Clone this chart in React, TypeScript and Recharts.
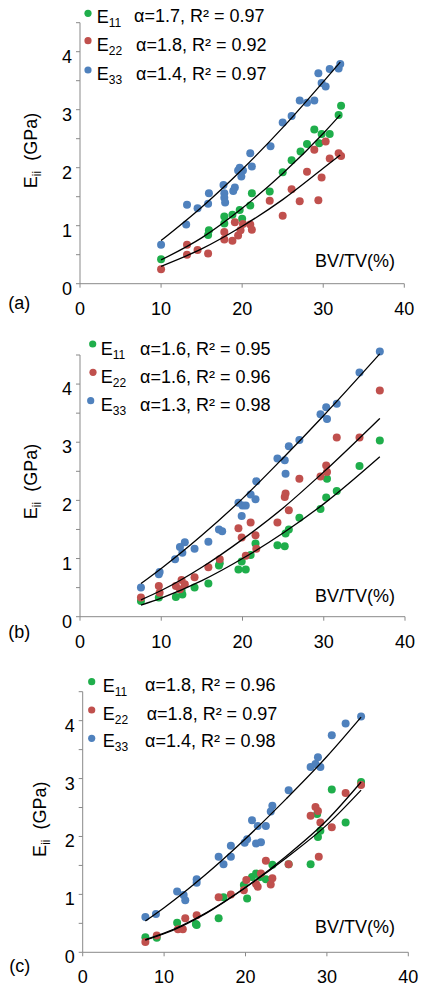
import React from 'react'
import { ComposedChart, Scatter, XAxis, YAxis, ReferenceLine } from 'recharts'

type Pt = [number, number]

const GREEN = '#1fae4b'
const RED = '#c0504d'
const BLUE = '#4f81bd'
const AXIS = '#898989'
const FONT = '"Liberation Sans", Arial, sans-serif'

const xTicks = [0, 10, 20, 30, 40]
const yTicks = [0, 0.5, 1, 1.5, 2, 2.5, 3, 3.5, 4, 4.5]
const subs = ['11', '22', '33']

// panel (a)
const aE11: Pt[] = [[10, 0.42], [15.8, 0.84], [15.9, 0.92], [17.8, 1.16], [17.8, 1.04], [18.8, 1.19], [19.7, 1.27], [20.0, 1.12], [21.0, 1.35], [21.2, 1.56], [23.4, 1.59], [25.0, 1.92], [26.1, 2.13], [27.2, 2.28], [28.0, 2.41], [28.9, 2.66], [29.5, 2.42], [29.8, 2.58], [30.8, 2.58], [31.9, 2.91], [32.2, 3.07]]
const aE22: Pt[] = [[10, 0.25], [13.2, 0.67], [13.2, 0.5], [14.5, 0.58], [15.8, 0.52], [17.8, 0.89], [17.8, 0.76], [18.8, 0.74], [19.1, 1.06], [19.5, 0.83], [19.8, 0.92], [20.1, 1.03], [21.0, 1.02], [21.2, 0.93], [23.4, 1.43], [25.0, 1.17], [26.1, 1.63], [27.1, 1.42], [28.0, 1.93], [28.9, 2.31], [29.4, 1.44], [29.8, 1.83], [30.3, 2.45], [30.8, 2.16], [31.9, 2.25], [32.2, 2.2]]
const aE33: Pt[] = [[10, 0.67], [13.1, 1.02], [13.2, 1.36], [14.5, 1.3], [15.8, 1.38], [15.9, 1.56], [17.7, 1.7], [17.8, 1.56], [17.8, 1.48], [17.9, 1.4], [18.9, 1.6], [19.1, 1.66], [19.5, 1.95], [19.7, 2.0], [19.9, 1.85], [20.1, 1.95], [21.0, 2.25], [21.2, 2.02], [23.5, 2.37], [25.0, 2.78], [26.1, 2.89], [27.1, 3.16], [28.0, 3.12], [28.9, 3.16], [29.4, 3.63], [29.8, 3.46], [30.3, 3.4], [30.8, 3.7], [31.9, 3.71], [32.1, 3.79]]
const aFit11: Pt[] = [[10, 0.41], [15, 0.79], [20, 1.3], [25, 1.9], [30, 2.59], [32.1, 2.91]]
const aFit22: Pt[] = [[10, 0.3], [15, 0.6], [20, 0.99], [25, 1.45], [30, 1.99], [32.1, 2.22]]
const aFit33: Pt[] = [[10, 0.745], [15, 1.32], [20, 1.97], [25, 2.69], [30, 3.48], [32.1, 3.82]]
const aText = ['α=1.7, R² = 0.97', 'α=1.8, R² = 0.92', 'α=1.4, R² = 0.97']

// panel (b)
const bE11: Pt[] = [[7.5, 0.27], [9.7, 0.33], [11.8, 0.34], [12.5, 0.45], [12.6, 0.38], [14.1, 0.5], [15.8, 0.57], [17.1, 0.88], [17.2, 0.92], [19.5, 0.81], [19.9, 0.95], [20.4, 0.81], [21.0, 1.06], [21.6, 1.26], [24.3, 1.23], [25.2, 1.21], [25.3, 1.43], [25.7, 1.5], [27.0, 1.7], [29.6, 1.85], [30.3, 2.05], [30.4, 2.37], [31.6, 2.16], [34.4, 2.59], [36.9, 3.03]]
const bE22: Pt[] = [[7.5, 0.33], [9.7, 0.53], [9.8, 0.41], [11.8, 0.53], [12.3, 0.47], [12.5, 0.63], [12.9, 0.56], [14.1, 0.68], [15.8, 0.85], [17.2, 0.99], [19.5, 1.52], [19.9, 1.36], [20.4, 1.05], [21.0, 1.62], [21.6, 1.4], [21.7, 1.17], [24.3, 1.62], [25.2, 2.06], [25.3, 2.12], [25.7, 1.83], [27.0, 2.37], [29.6, 2.41], [30.3, 2.6], [30.4, 2.49], [31.6, 3.08], [34.4, 3.08], [36.9, 3.89]]
const bE33: Pt[] = [[7.5, 0.5], [9.7, 0.73], [9.8, 0.77], [11.7, 0.99], [12.3, 1.2], [12.6, 1.1], [12.9, 1.28], [14.1, 1.17], [15.8, 1.29], [17.1, 1.5], [17.5, 1.47], [19.5, 1.96], [19.9, 1.73], [20.0, 1.91], [20.4, 1.91], [21.0, 2.1], [21.6, 2.02], [21.7, 2.33], [24.3, 2.72], [25.2, 2.69], [25.3, 2.46], [25.7, 2.93], [27.0, 3.04], [29.6, 3.48], [30.3, 3.6], [30.4, 3.4], [31.6, 3.66], [34.4, 4.2], [36.9, 4.56]]
const bFit11: Pt[] = [[7.5, 0.2], [10, 0.32], [15, 0.62], [20, 1.0], [25, 1.44], [30, 1.94], [36.9, 2.75]]
const bFit22: Pt[] = [[7.5, 0.29], [10, 0.45], [15, 0.85], [20, 1.33], [25, 1.87], [30, 2.49], [36.9, 3.41]]
const bFit33: Pt[] = [[7.5, 0.57], [10, 0.83], [15, 1.4], [20, 2.03], [25, 2.73], [30, 3.46], [36.9, 4.52]]
const bText = ['α=1.6, R² = 0.95', 'α=1.6, R² = 0.96', 'α=1.3, R² = 0.98']

// panel (c)
const cE11: Pt[] = [[7.7, 0.26], [9.1, 0.25], [11.6, 0.51], [13.9, 0.49], [14.0, 0.47], [16.7, 0.59], [17.3, 0.95], [19.8, 1.16], [20.2, 0.93], [20.8, 1.3], [21.3, 1.36], [21.8, 1.3], [22.5, 1.26], [23.3, 1.51], [25.3, 1.52], [28.0, 1.52], [28.8, 2.39], [28.9, 1.99], [29.2, 2.1], [30.6, 2.81], [32.3, 2.24], [34.2, 2.94]]
const cE22: Pt[] = [[7.7, 0.18], [9.1, 0.29], [11.7, 0.4], [12.3, 0.4], [12.6, 0.59], [14.0, 0.64], [16.7, 0.95], [18.2, 1.0], [19.8, 1.07], [20.1, 1.25], [21.3, 1.18], [21.5, 1.13], [21.9, 1.36], [22.5, 1.58], [23.1, 1.17], [23.3, 1.28], [25.3, 1.52], [28.0, 2.36], [28.6, 2.51], [28.9, 2.44], [29.2, 2.24], [29.0, 1.65], [30.6, 2.16], [32.3, 2.75], [34.2, 2.89]]
const cE33: Pt[] = [[7.7, 0.61], [9.0, 0.66], [11.6, 1.05], [12.4, 0.99], [12.6, 0.9], [14.0, 1.26], [14.0, 1.2], [16.7, 1.65], [17.3, 1.52], [18.2, 1.65], [18.2, 1.84], [19.9, 1.89], [20.2, 1.95], [20.8, 2.28], [21.3, 1.88], [21.5, 2.18], [21.9, 1.9], [22.5, 2.18], [23.1, 2.43], [23.3, 2.53], [25.3, 2.8], [28.0, 3.2], [28.6, 3.25], [28.9, 3.37], [29.2, 3.2], [30.6, 3.75], [32.3, 3.95], [34.2, 4.07]]
const cFit11: Pt[] = [[7.7, 0.22], [10, 0.33], [15, 0.67], [20, 1.12], [25, 1.63], [30, 2.2], [34.2, 2.8]]
const cFit22: Pt[] = [[7.7, 0.21], [10, 0.32], [15, 0.66], [20, 1.12], [25, 1.66], [30, 2.28], [34.2, 2.94]]
const cFit33: Pt[] = [[7.7, 0.54], [10, 0.77], [15, 1.33], [20, 1.96], [25, 2.65], [30, 3.38], [34.2, 4.06]]
const cText = ['α=1.8, R² = 0.96', 'α=1.8, R² = 0.97', 'α=1.4, R² = 0.98']

const toXY = (pts: Pt[]) => pts.map(([x, y]) => ({ x, y }))

const YTick = (props: any) => {
  const { x, y, payload } = props
  if (!Number.isInteger(payload.value)) return <g />
  return (
    <text x={x} y={y + 11} textAnchor="end" fontSize={18} fill="#000" fontFamily={FONT}>
      {payload.value}
    </text>
  )
}

const XTick = (props: any) => {
  const { x, y, payload } = props
  return (
    <text x={x} y={y + 25} textAnchor="middle" fontSize={18} fill="#000" fontFamily={FONT}>
      {payload.value}
    </text>
  )
}

const dot = (color: string) => (p: any) => <circle cx={p.cx} cy={p.cy} r={4} fill={color} />

function Panel(props: any) {
  const { h, plot, yMax, pts, fits, text, letter, lay } = props
  const colors = [GREEN, RED, BLUE]
  // plot.t is where 4.5 sits; extend upward when the domain is taller
  const unit = (plot.b - plot.t) / 4.5
  const top = plot.t - (yMax - 4.5) * unit
  return (
    <div style={{ position: 'relative', width: 431, height: h }}>
      <ComposedChart
        width={431}
        height={h}
        margin={{ top, right: 431 - plot.r, bottom: h - plot.b - 30, left: 0 }}
      >
        <XAxis
          type="number"
          dataKey="x"
          domain={[0, 40]}
          ticks={xTicks}
          height={30}
          stroke={AXIS}
          tickSize={4}
          tickMargin={2}
          tick={<XTick />}
        />
        <YAxis
          type="number"
          dataKey="y"
          domain={[0, yMax]}
          ticks={yTicks}
          width={plot.l}
          stroke={AXIS}
          axisLine={false}
          tickSize={4}
          tickMargin={4}
          tick={<YTick />}
          interval={0}
        />
        <ReferenceLine segment={[{ x: 0, y: 0 }, { x: 0, y: 4.5 }]} stroke={AXIS} />
        {pts.map((d: Pt[], i: number) => (
          <Scatter key={'p' + i} data={toXY(d)} shape={dot(colors[i])} isAnimationActive={false} />
        ))}
        {fits.map((d: Pt[], i: number) => (
          <Scatter
            key={'f' + i}
            data={toXY(d)}
            shape={() => <g />}
            line={{ stroke: '#000', strokeWidth: 1.3 }}
            lineJointType="monotoneX"
            isAnimationActive={false}
          />
        ))}
      </ComposedChart>
      <svg
        width={431}
        height={h}
        style={{ position: 'absolute', left: 0, top: 0, pointerEvents: 'none' }}
        fontFamily={FONT}
      >
        {text.map((t: string, i: number) => (
          <g key={i}>
            <circle cx={lay.dotX[i]} cy={lay.dotY[i]} r={3.6} fill={colors[i]} />
            <text x={lay.eX} y={lay.base[i]} fontSize={18} fill="#000">
              E<tspan fontSize={12} dy={4}>{subs[i]}</tspan>
            </text>
            <text x={lay.textX[i]} y={lay.base[i] - 0.5} fontSize={18} fill="#000">{t}</text>
          </g>
        ))}
        <text
          transform={`translate(${lay.ylab[0]},${lay.ylab[1]}) rotate(-90)`}
          textAnchor="middle"
          fontSize={18}
          fill="#000"
        >
          E<tspan fontSize={12} dy={4}>ii</tspan>
          <tspan dy={-4} dx={10}>(GPa)</tspan>
        </text>
        <text x={lay.bv[0]} y={lay.bv[1]} fontSize={18} fill="#000">BV/TV(%)</text>
        <text x={lay.letter[0]} y={lay.letter[1]} fontSize={18} fill="#000">{letter}</text>
      </svg>
    </div>
  )
}

export default function App() {
  return (
    <div style={{ position: 'absolute', left: 0, top: 0, width: 431, height: 992, background: '#fff' }}>
      <Panel
        h={330}
        plot={{ l: 80, r: 404.3, t: 22.7, b: 283.7 }}
        yMax={4.5}
        pts={[aE11, aE22, aE33]}
        fits={[aFit11, aFit22, aFit33]}
        text={aText}
        letter="(a)"
        lay={{ dotX: [88, 88, 88], dotY: [13.3, 40.7, 70], eX: 96.7, base: [22.7, 51.3, 80], textX: [134, 136, 136], ylab: [36.5, 150.5], bv: [315, 266.7], letter: [8.3, 308.5] }}
      />
      <Panel
        h={330}
        plot={{ l: 80, r: 405, t: 25, b: 286.7 }}
        yMax={4.6}
        pts={[bE11, bE22, bE33]}
        fits={[bFit11, bFit22, bFit33]}
        text={bText}
        letter="(b)"
        lay={{ dotX: [92.7, 93, 90.7], dotY: [14, 42.3, 70.7], eX: 100.7, base: [25, 53, 81], textX: [140, 140, 140], ylab: [36.7, 151.5], bv: [315, 271.5], letter: [8.3, 308] }}
      />
      <Panel
        h={332}
        plot={{ l: 82.7, r: 408.3, t: 31.7, b: 292.3 }}
        yMax={4.5}
        pts={[cE11, cE22, cE33]}
        fits={[cFit11, cFit22, cFit33]}
        text={cText}
        letter="(c)"
        lay={{ dotX: [91.7, 91.7, 91.7], dotY: [21.7, 50, 78.3], eX: 102.7, base: [31.5, 60, 87], textX: [145, 146.7, 145], ylab: [46, 159.2], bv: [315, 273], letter: [9.3, 312] }}
      />
    </div>
  )
}
